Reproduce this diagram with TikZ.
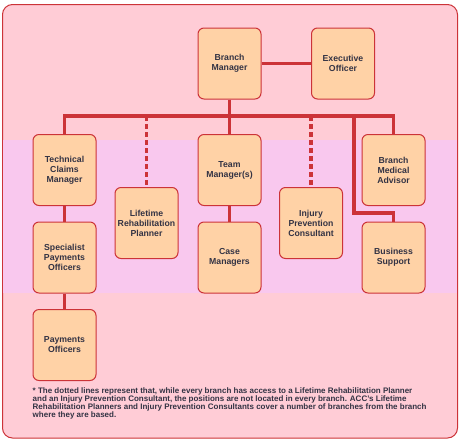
\documentclass[tikz,border=0pt]{standalone}
\usepackage{fontspec}
\setmainfont{Liberation Sans}
\definecolor{linkred}{HTML}{CC3338}
\definecolor{boxfill}{HTML}{FFD2A6}
\definecolor{outerpink}{HTML}{FFCCD6}
\definecolor{bandpink}{HTML}{F9C8EE}
\definecolor{inkgrey}{HTML}{333344}
\tikzset{
  post/.style={draw=linkred, line width=1pt, fill=boxfill, rounded corners=6pt,
    minimum width=63pt, minimum height=71pt, inner sep=1pt, align=center,
    text=inkgrey, font=\fontsize{8.7}{10}\selectfont\bfseries},
  link/.style={draw=linkred, line width=3.4pt},
  dotted link/.style={link, dash pattern=on 5pt off 3pt}
}
\begin{document}
\begin{tikzpicture}[x=1pt, y=-1pt]
\useasboundingbox (0,0) rectangle (462,442);
\draw[draw=linkred, line width=1pt, fill=outerpink, rounded corners=10pt] (2.5,4.5) rectangle (457.5,438);
\fill[bandpink] (3,140) rectangle (457,293);
\node[post] (bm) at (229.5, 63.5) {Branch\\Manager};
\node[post] (eo) at (343, 63.5) {Executive\\Officer};
\node[post] (tcm) at (64.5, 170) {Technical\\Claims\\Manager};
\node[post] (lrp) at (146.5, 223) {Lifetime\\Rehabilitation\\Planner};
\node[post] (tm) at (229.5, 170) {Team\\Manager(s)};
\node[post] (ipc) at (311, 223) {Injury\\Prevention\\Consultant};
\node[post] (bma) at (393.5, 170) {Branch\\Medical\\Advisor};
\node[post] (spo) at (64.5, 257.5) {Specialist\\Payments\\Officers};
\node[post] (cm) at (229.5, 257.5) {Case\\Managers};
\node[post] (bs) at (393.5, 257.5) {Business\\Support};
\node[post] (po) at (64.5, 345) {Payments\\Officers};
\coordinate (bus) at (229.5, 116);
\coordinate (bsdrop) at (354, 116);
\coordinate (bsturn) at (354, 213);
\draw[link] (bm) -- (eo);
\draw[link] (bm) -- (bus);
\draw[link] (tcm.north) -- (tcm.north |- bus) -- (bma.north |- bus) -- (bma.north);
\draw[dotted link] (lrp.north |- bus) -- (lrp.north);
\draw[dotted link] (ipc.north |- bus) -- (ipc.north);
\draw[link] (tm.north |- bus) -- (tm.north);
\draw[link] (bsdrop) -- (bsturn) -| (bs.north);
\draw[link] (tcm) -- (spo);
\draw[link] (spo) -- (po);
\draw[link] (tm) -- (cm);
\node[anchor=north west, inner sep=0pt, align=left, text=inkgrey, font=\fontsize{8}{8.3}\selectfont\bfseries] (note) at (32.5, 387)
  {* The dotted lines represent that, while every branch has access to a Lifetime Rehabilitation Planner\\
   and an Injury Prevention Consultant, the positions are not located in every branch. ACC's Lifetime\\
   Rehabilitation Planners and Injury Prevention Consultants cover a number of branches from the branch\\
   where they are based.};
\end{tikzpicture}
\end{document}
